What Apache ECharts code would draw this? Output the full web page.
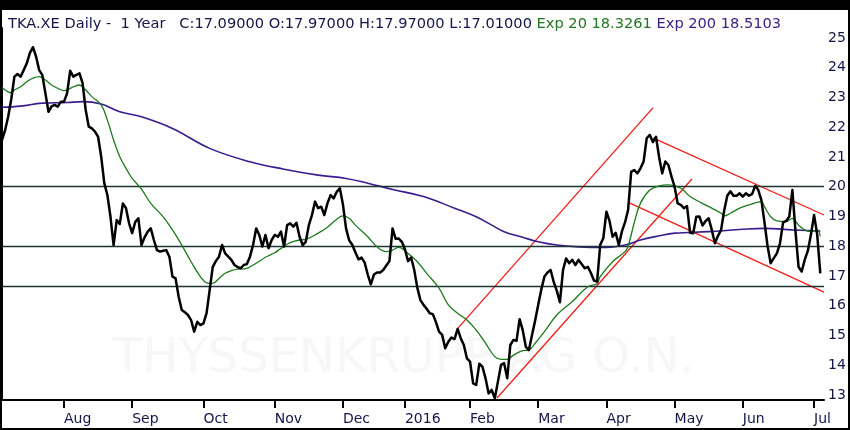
<!DOCTYPE html>
<html>
<head>
<meta charset="utf-8">
<script src="https://cdn.jsdelivr.net/npm/echarts@6/dist/echarts.min.js"></script>
<style>
html,body{margin:0;padding:0;background:#fff;}
#c{width:850px;height:430px;}
</style>
</head>
<body>
<div id="c"></div>
<script>
// Trading-day index of each month's first session and its label
const monthStart = [20, 42, 65, 88, 110, 130, 151, 173, 195, 217, 239, 262];
const monthLabel = ['Aug','Sep','Oct','Nov','Dec','2016','Feb','Mar','Apr','May','Jun','Jul'];
const priceTicks = [13,14,15,16,17,18,19,20,21,22,23,24,25];

// Daily close, trading day 0..264
const closeVal = [
21.57,21.90,22.36,22.95,23.70,23.79,23.70,23.92,24.15,24.50,
24.69,24.37,23.92,23.76,23.14,22.52,22.70,22.75,22.69,22.86,
22.86,23.14,23.90,23.70,23.76,23.81,23.48,22.58,22.02,21.96,
21.85,21.68,21.01,20.12,19.72,18.99,18.04,18.88,18.75,19.44,
19.28,18.77,18.44,18.82,18.94,18.04,18.30,18.49,18.60,18.21,
17.87,17.82,17.85,17.87,17.65,16.98,16.92,16.30,15.86,15.78,
15.69,15.52,15.13,15.46,15.35,15.41,15.75,16.53,17.31,17.50,
17.65,18.04,17.76,17.65,17.54,17.37,17.30,17.26,17.37,17.40,
17.65,18.04,18.60,18.38,17.99,18.38,17.93,18.21,18.38,18.32,
18.49,17.99,18.71,18.77,18.66,18.79,18.32,18.04,18.15,18.71,
19.05,19.50,19.28,19.33,19.05,19.44,19.72,19.61,19.83,19.95,
19.40,18.60,18.20,18.05,17.80,17.56,17.62,17.45,17.05,16.72,
17.05,17.12,17.12,17.20,17.35,17.50,18.60,18.25,18.26,18.15,
17.90,17.50,17.62,17.20,16.60,16.19,16.03,15.90,15.75,15.72,
15.45,15.13,15.02,14.57,14.79,14.93,14.88,15.22,14.91,14.68,
14.23,14.12,13.39,13.34,14.05,13.95,13.56,13.05,13.17,12.89,
13.45,14.01,14.07,13.56,14.68,14.85,14.82,15.55,15.18,14.62,
14.51,15.02,15.50,16.03,16.55,16.98,17.12,17.20,16.80,16.50,
16.12,17.20,17.59,17.43,17.54,17.37,17.54,17.40,17.26,17.31,
17.10,16.85,16.81,18.05,18.27,19.16,18.85,18.32,18.45,18.04,
18.50,18.80,19.22,20.51,20.56,20.45,20.62,20.85,21.63,21.74,
21.50,21.68,21.00,20.45,20.85,20.73,20.34,20.00,19.44,19.39,
19.28,19.35,18.45,18.44,18.99,19.00,18.70,18.85,18.94,18.55,
18.10,18.35,18.55,19.20,19.70,19.85,19.70,19.70,19.78,19.67,
19.78,19.70,19.75,20.03,19.89,19.55,18.80,18.00,17.43,17.60,
17.76,18.10,18.80,18.85,19.00,19.89,18.50,17.30,17.15,17.55,
17.85,18.40,19.05,18.40,17.09
];

// Exp 20 moving average, read at selected trading days
const ema20Day = [0,2,3,4,6,8,10,12,14,16,18,20,22,25,27,29,32,34,36,38,40,42,45,48,52,55,58,61,64,66,68,70,72,74,76,79,82,85,88,90,93,96,98,102,105,108,110,112,114,118,121,124,126,128,129,131,134,137,141,144,147,150,153,156,159,161,163,165,168,170,172,175,179,184,189,192,193,197,201,202,204,206,209,212,215,219,222,226,229,232,233,235,238,241,245,246,248,250,253,255,257,259,261,263,264];
const ema20Val = [23.34,23.19,23.16,23.25,23.36,23.53,23.65,23.70,23.59,23.42,23.31,23.23,23.31,23.42,23.25,23.03,22.75,22.24,21.57,21.01,20.62,20.28,19.92,19.44,18.99,18.55,18.04,17.48,16.98,16.77,16.75,16.92,17.09,17.18,17.23,17.26,17.43,17.63,17.78,17.93,18.12,18.21,18.23,18.44,18.64,18.91,19.02,18.94,18.71,18.32,17.98,17.82,17.87,17.96,17.93,17.76,17.48,17.09,16.59,16.03,15.75,15.52,15.18,14.74,14.29,14.20,14.20,14.34,14.49,14.51,14.74,15.13,15.69,16.14,16.64,16.75,16.98,17.48,17.82,18.00,18.80,19.45,19.89,20.03,20.06,19.95,19.67,19.44,19.28,19.11,19.02,19.11,19.28,19.39,19.50,19.33,18.99,18.85,18.83,18.94,18.71,18.55,18.49,18.55,18.33];

// Exp 200 moving average, read at selected trading days
const ema200Day = [0,6,13,21,26,32,38,45,55,67,80,91,102,111,118,126,136,146,153,158,162,168,173,179,186,195,201,206,212,217,228,239,246,255,264];
const ema200Val = [22.67,22.71,22.81,22.83,22.86,22.78,22.52,22.35,21.96,21.29,20.84,20.59,20.39,20.28,20.12,19.91,19.67,19.28,18.99,18.71,18.49,18.30,18.15,18.04,17.98,17.96,18.04,18.21,18.35,18.44,18.49,18.57,18.60,18.55,18.51];

// Drawn trend lines: [startDay, startPrice, endDay, endPrice]
const trendLines = [
  [147.1, 15.25, 210.0, 22.65],
  [159.7, 12.90, 222.6, 20.26],
  [210.0, 21.64, 265.2, 19.05],
  [202.6, 19.45, 265.2, 16.46]
];
// Horizontal support/resistance levels
const levels = [20, 18, 16.67];

const NAVY = '#15154a';
const FONT = 'DejaVu Sans';
const TFS = 14.6;

const chart = echarts.init(document.getElementById('c'), null, {renderer: 'canvas'});

const series = [];
series.push({
  type: 'line', data: [], silent: true,
  markLine: {
    silent: true, symbol: ['none','none'], label: {show: false},
    lineStyle: {color: '#1d3432', width: 1.3, type: 'solid'},
    data: levels.map(v => ({yAxis: v}))
  }
});
trendLines.forEach(t => series.push({
  type: 'line', silent: true, showSymbol: false,
  lineStyle: {color: '#f21d16', width: 1.3},
  data: [[t[0], t[1]], [t[2], t[3]]], z: 3
}));
series.push({
  type: 'line', silent: true, showSymbol: false, smooth: 0.4,
  lineStyle: {color: '#3b1b8f', width: 1.6},
  data: ema200Day.map((d, i) => [d, ema200Val[i]]), z: 4
});
series.push({
  type: 'line', silent: true, showSymbol: false, smooth: 0.4,
  lineStyle: {color: '#1d7a1d', width: 1.3},
  data: ema20Day.map((d, i) => [d, ema20Val[i]]), z: 5
});
series.push({
  type: 'line', silent: true, showSymbol: false,
  lineStyle: {color: '#000', width: 2.5, join: 'round'},
  data: closeVal.map((v, i) => [i, v]), z: 6
});

chart.setOption({
  animation: false,
  backgroundColor: '#fff',
  title: {
    left: 3, top: 12,
    text: '{a|TKA.XE Daily -  1 Year   C:17.09000 O:17.97000 H:17.97000 L:17.01000} {g|Exp 20 18.3261} {p|Exp 200 18.5103}',
    textStyle: {
      fontFamily: FONT, fontSize: TFS, fontWeight: 'normal',
      rich: {
        a: {color: NAVY, fontFamily: FONT, fontSize: TFS},
        g: {color: '#237523', fontFamily: FONT, fontSize: TFS},
        p: {color: '#3a1c86', fontFamily: FONT, fontSize: TFS}
      }
    }
  },
  grid: {left: 2, right: 26, top: 28, bottom: 30},
  xAxis: {
    type: 'value', min: 0, max: 265.2,
    splitLine: {show: false},
    axisLine: {show: true, onZero: false, lineStyle: {color: '#000', width: 2}},
    axisTick: {show: true, customValues: monthStart, length: 8, lineStyle: {color: '#000', width: 2}},
    axisLabel: {
      customValues: monthStart, align: 'left', margin: 12,
      color: NAVY, fontFamily: FONT, fontSize: 14,
      formatter: v => monthLabel[monthStart.indexOf(v)]
    }
  },
  yAxis: {
    type: 'value', position: 'right', min: 12.832, max: 25.336,
    splitLine: {show: false},
    axisLine: {show: true, lineStyle: {color: '#000', width: 2}},
    axisTick: {show: false},
    axisLabel: {
      customValues: priceTicks, margin: 4, color: NAVY,
      fontFamily: FONT, fontSize: 14, align: 'left'
    }
  },
  graphic: [
    {type: 'text', left: 113, top: 336, z: -10, silent: true,
     style: {text: 'THYSSENKRUPP AG O.N.', fill: '#f7f7f7', font: '48px "DejaVu Sans"'}},
    {type: 'rect', left: 0, top: 0, z: 100, silent: true, shape: {width: 850, height: 10}, style: {fill: '#000'}},
    {type: 'rect', left: 0, top: 0, z: 100, silent: true, shape: {width: 2, height: 430}, style: {fill: '#000'}},
    {type: 'rect', left: 0, top: 428, z: 100, silent: true, shape: {width: 850, height: 2}, style: {fill: '#000'}},
    {type: 'rect', left: 848, top: 0, z: 100, silent: true, shape: {width: 2, height: 430}, style: {fill: '#000'}}
  ],
  series: series
});
</script>
</body>
</html>
